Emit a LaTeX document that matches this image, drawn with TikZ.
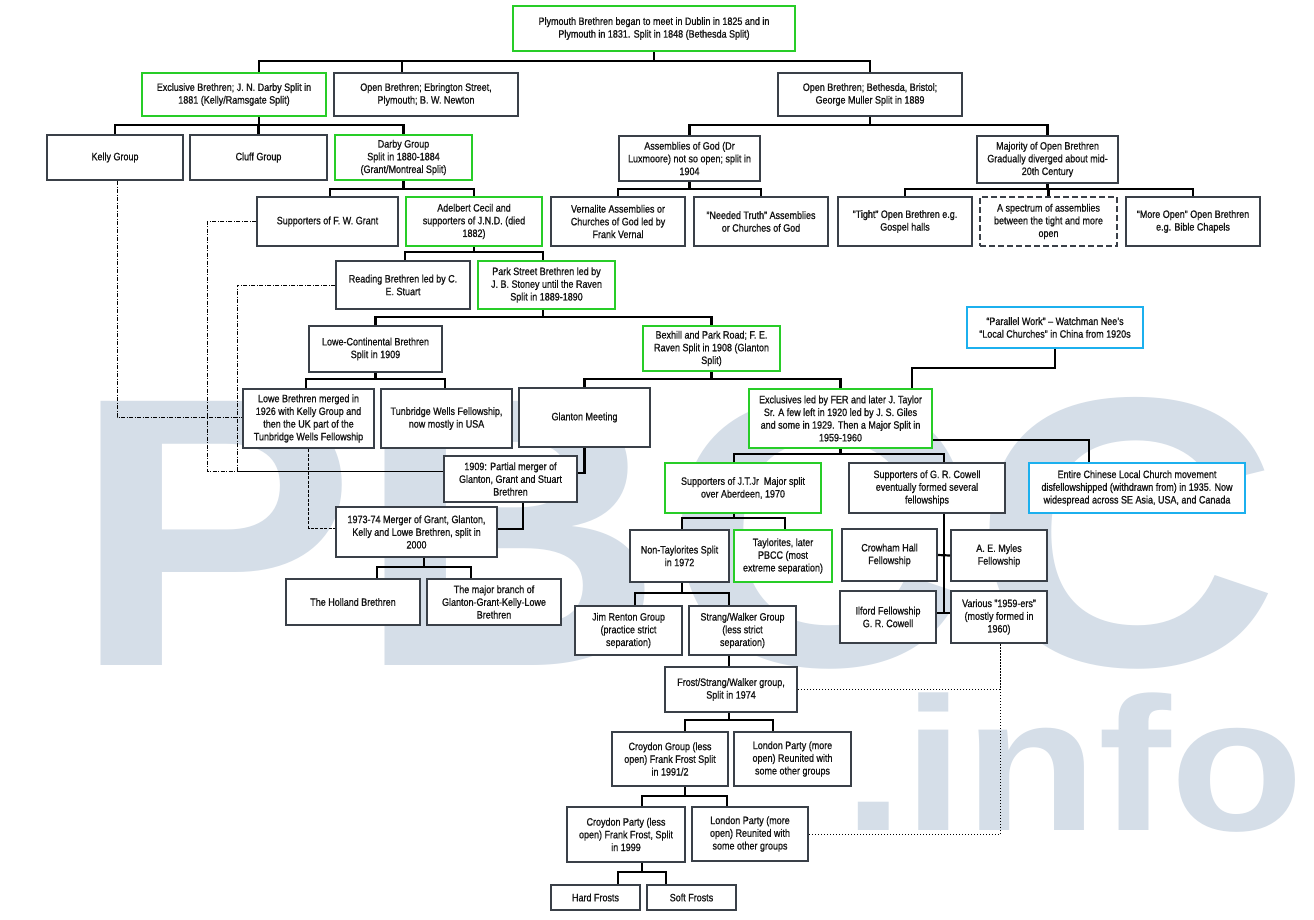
\documentclass[tikz,border=0pt]{standalone}
\usepackage{fontspec}
\setmainfont{Liberation Sans}[FakeStretch=0.84,FakeBold=0.9]
\newfontfamily\wmfont{Liberation Sans}
\usetikzlibrary{calc}
\definecolor{grnC}{RGB}{40,205,40}
\definecolor{bluC}{RGB}{28,176,238}
\definecolor{gryC}{RGB}{58,64,72}
\definecolor{wmC}{RGB}{213,222,232}
\definecolor{txtC}{RGB}{20,20,20}
\begin{document}
\begin{tikzpicture}[x=1pt,y=-1pt,
  box/.style={draw=gryC, line width=2pt, fill=white, align=center, inner sep=0pt,
    font=\fontsize{10.7}{12.7}\selectfont, text=txtC},
  gbox/.style={box, draw=grnC},
  bbox/.style={box, draw=bluC},
  dbox/.style={box, dash pattern=on 6pt off 3pt},
  conn/.style={draw=black, line width=2.2pt},
  dashdot/.style={draw=black, line width=0.9pt, dash pattern=on 4pt off 1.5pt on 1pt off 1.5pt},
  dashline/.style={draw=black, line width=0.9pt, dash pattern=on 3pt off 1.5pt},
  dotline/.style={draw=black, line width=0.9pt, dash pattern=on 1pt off 2pt}]
\useasboundingbox (0,0) rectangle (1314,919);
\fill[white] (0,0) rectangle (1314,919);
% watermark
\node[anchor=base west, text=wmC, inner sep=0pt, xscale=1.11,
  font=\wmfont\bfseries\fontsize{384}{400}\selectfont] (wm1) at (72,665) {PBCC};
\node[anchor=base west, text=wmC, inner sep=0pt, xscale=1.15,
  font=\wmfont\bfseries\fontsize{190}{200}\selectfont] (wm2) at (843,830) {.info};
% boxes
\node[gbox, minimum width=282pt, minimum height=45pt] (top) at (654,28.5) {Plymouth Brethren began to meet in Dublin in 1825 and in\\Plymouth in 1831. Split in 1848 (Bethesda Split)};
\node[gbox, minimum width=184pt, minimum height=43pt] (excl) at (234,94.5) {Exclusive Brethren; J. N. Darby Split in\\1881 (Kelly/Ramsgate Split)};
\node[box, minimum width=184pt, minimum height=43pt] (ebr) at (426,94.5) {Open Brethren; Ebrington Street,\\Plymouth; B. W. Newton};
\node[box, minimum width=184pt, minimum height=43pt] (beth) at (870,94.5) {Open Brethren; Bethesda, Bristol;\\George Muller Split in 1889};
\node[box, minimum width=136pt, minimum height=45pt] (kelly) at (115,157.5) {Kelly Group};
\node[box, minimum width=137pt, minimum height=45pt] (cluff) at (258.5,157.5) {Cluff Group};
\node[gbox, minimum width=137pt, minimum height=45pt] (darby) at (403.5,157.5) {Darby Group\\Split in 1880-1884\\(Grant/Montreal Split)};
\node[box, minimum width=141pt, minimum height=45pt] (aog) at (689.5,158.5) {Assemblies of God (Dr\\Luxmoore) not so open; split in\\1904};
\node[box, minimum width=141pt, minimum height=47pt] (major) at (1047.5,159.5) {Majority of Open Brethren\\Gradually diverged about mid-\\20th Century};
\node[box, minimum width=141pt, minimum height=49pt] (grant) at (327.5,221.5) {Supporters of F. W. Grant};
\node[gbox, minimum width=136pt, minimum height=49pt] (adel) at (474,221.5) {Adelbert Cecil and\\supporters of J.N.D. (died\\1882)};
\node[box, minimum width=134pt, minimum height=49pt] (vern) at (618,221.5) {Vernalite Assemblies or\\Churches of God led by\\Frank Vernal};
\node[box, minimum width=134pt, minimum height=49pt] (needed) at (761,221.5) {"Needed Truth" Assemblies\\or Churches of God};
\node[box, minimum width=134pt, minimum height=49pt] (tight) at (905,221.5) {"Tight" Open Brethren e.g.\\Gospel halls};
\node[dbox, minimum width=137pt, minimum height=49pt] (spec) at (1048.5,221.5) {A spectrum of assemblies\\between the tight and more\\open};
\node[box, minimum width=134pt, minimum height=49pt] (moreopen) at (1193,221.5) {“More Open” Open Brethren\\e.g. Bible Chapels};
\node[box, minimum width=134pt, minimum height=48pt] (reading) at (403,285) {Reading Brethren led by C.\\E. Stuart};
\node[gbox, minimum width=137pt, minimum height=48pt] (park) at (546.5,285) {Park Street Brethren led by\\J. B. Stoney until the Raven\\Split in 1889-1890};
\node[box, minimum width=133pt, minimum height=46pt] (lowec) at (375.5,349) {Lowe-Continental Brethren\\Split in 1909};
\node[gbox, minimum width=137pt, minimum height=45pt] (bexhill) at (711.5,348.5) {Bexhill and Park Road; F. E.\\Raven Split in 1908 (Glanton\\Split)};
\node[bbox, minimum width=176pt, minimum height=41pt] (parallel) at (1055,327.5) {“Parallel Work” – Watchman Nee’s\\“Local Churches” in China from 1920s};
\node[box, minimum width=131pt, minimum height=59pt] (lowe) at (308.5,418.5) {Lowe Brethren merged in\\1926 with Kelly Group and\\then the UK part of the\\Tunbridge Wells Fellowship};
\node[box, minimum width=131pt, minimum height=59pt] (tunb) at (446.5,418.5) {Tunbridge Wells Fellowship,\\now mostly in USA};
\node[box, minimum width=131pt, minimum height=59pt] (glanton) at (584.5,417.5) {Glanton Meeting};
\node[gbox, minimum width=183pt, minimum height=59pt] (fer) at (840.5,418.5) {Exclusives led by FER and later J. Taylor\\Sr. A few left in 1920 led by J. S. Giles\\and some in 1929. Then a Major Split in\\1959-1960};
\node[box, minimum width=133pt, minimum height=46pt] (m1909) at (510.5,479) {1909: Partial merger of\\Glanton, Grant and Stuart\\Brethren};
\node[gbox, minimum width=156pt, minimum height=50pt] (jtjr) at (743,488) {Supporters of J.T.Jr\ \ Major split\\over Aberdeen, 1970};
\node[box, minimum width=156pt, minimum height=50pt] (cowell) at (927,488) {Supporters of G. R. Cowell\\eventually formed several\\fellowships};
\node[bbox, minimum width=216pt, minimum height=50pt] (chinese) at (1137,488) {Entire Chinese Local Church movement\\disfellowshipped (withdrawn from) in 1935. Now\\widespread across SE Asia, USA, and Canada};
\node[box, minimum width=161pt, minimum height=50pt] (m1973) at (416.5,532) {1973-74 Merger of Grant, Glanton,\\Kelly and Lowe Brethren, split in\\2000};
\node[box, minimum width=99pt, minimum height=52pt] (nontay) at (679.5,556) {Non-Taylorites Split\\in 1972};
\node[gbox, minimum width=98pt, minimum height=52pt] (taylor) at (783,556) {Taylorites, later\\PBCC (most\\extreme separation)};
\node[box, minimum width=95pt, minimum height=52pt] (crowham) at (889.5,555) {Crowham Hall\\Fellowship};
\node[box, minimum width=96pt, minimum height=51pt] (myles) at (999,555.5) {A. E. Myles\\Fellowship};
\node[box, minimum width=134pt, minimum height=46pt] (holland) at (353,602) {The Holland Brethren};
\node[box, minimum width=134pt, minimum height=46pt] (majorbr) at (494,602) {The major branch of\\Glanton-Grant-Kelly-Lowe\\Brethren};
\node[box, minimum width=107pt, minimum height=49pt] (renton) at (628.5,630.5) {Jim Renton Group\\(practice strict\\separation)};
\node[box, minimum width=107pt, minimum height=49pt] (strang) at (742.5,630.5) {Strang/Walker Group\\(less strict\\separation)};
\node[box, minimum width=96pt, minimum height=52pt] (ilford) at (888,617) {Ilford Fellowship\\G. R. Cowell};
\node[box, minimum width=96pt, minimum height=52pt] (various) at (999,617) {Various "1959-ers"\\(mostly formed in\\1960)};
\node[box, minimum width=132pt, minimum height=45pt] (fsw) at (731,689.5) {Frost/Strang/Walker group,\\Split in 1974};
\node[box, minimum width=116pt, minimum height=54pt] (croydong) at (670,759) {Croydon Group (less\\open) Frank Frost Split\\in 1991/2};
\node[box, minimum width=117pt, minimum height=54pt] (london1) at (792.5,759) {London Party (more\\open) Reunited with\\some other groups};
\node[box, minimum width=118pt, minimum height=55pt] (croydonp) at (626,834.5) {Croydon Party (less\\open) Frank Frost, Split\\in 1999};
\node[box, minimum width=116pt, minimum height=54pt] (london2) at (750,834) {London Party (more\\open) Reunited with\\some other groups};
\node[box, minimum width=89pt, minimum height=25pt] (hard) at (595.5,897.5) {Hard Frosts};
\node[box, minimum width=89pt, minimum height=25pt] (soft) at (691.5,897.5) {Soft Frosts};
% connectors
\coordinate (j1) at ([yshift=-9pt]top.south);
\draw[conn] (top.south) -- (j1);
\draw[conn] ([xshift=25pt]excl.north) |- (j1) -| (beth.north);
\draw[conn] ([xshift=-24pt]ebr.north) |- (j1);
\coordinate (j2) at ([xshift=25pt,yshift=-8pt]excl.south);
\draw[conn] ([xshift=25pt]excl.south) -- (j2);
\draw[conn] (kelly.north) |- (j2) -| (darby.north);
\draw[conn] (cluff.north) |- (j2);
\coordinate (jb) at ([yshift=-8pt]beth.south);
\draw[conn] (beth.south) -- (jb);
\draw[conn] (aog.north) |- (jb) -| (major.north);
\coordinate (ja) at ([yshift=-7pt]aog.south);
\draw[conn] (aog.south) -- (ja);
\draw[conn] (vern.north) |- (ja) -| (needed.north);
\coordinate (jm) at ([yshift=-5pt]major.south);
\draw[conn] (major.south) -- (jm);
\draw[conn] (tight.north) |- (jm) -| (moreopen.north);
\draw[conn] (spec.north) |- (jm);
\coordinate (j3) at ([yshift=-8pt]darby.south);
\draw[conn] (darby.south) -- (j3);
\draw[conn] ([xshift=2.5pt]grant.north) |- (j3) -| (adel.north);
\coordinate (j4) at ([yshift=-5pt]adel.south);
\draw[conn] (adel.south) -- (j4);
\draw[conn] ([xshift=2pt]reading.north) |- (j4) -| ([xshift=-3.5pt]park.north);
\coordinate (j5) at ([xshift=-3.5pt,yshift=-7pt]park.south);
\draw[conn] ([xshift=-3.5pt]park.south) -- (j5);
\draw[conn] (lowec.north) |- (j5) -| (bexhill.north);
\coordinate (j6) at ([yshift=-6pt]lowec.south);
\draw[conn] (lowec.south) -- (j6);
\draw[conn] ([xshift=-2.5pt]lowe.north) |- (j6) -| ([xshift=-1.5pt]tunb.north);
\coordinate (j7) at ([yshift=-7pt]bexhill.south);
\draw[conn] (bexhill.south) -- (j7);
\draw[conn] (glanton.north) |- (j7) -| (fer.north);
\draw[conn] (parallel.south) |- ([xshift=71.5pt,yshift=20pt]fer.north) -- ([xshift=71.5pt]fer.north);
\coordinate (j9) at ([yshift=-5pt]fer.south);
\draw[conn] (fer.south) -- (j9);
\draw[conn] ([xshift=-9pt]jtjr.north) |- (j9) -| ([xshift=17pt]cowell.north);
\draw[conn] ([yshift=-21.5pt]fer.east) -| ([xshift=-48pt]chinese.north);
\coordinate (j11) at ([xshift=-9pt,yshift=-4pt]jtjr.south);
\draw[conn] ([xshift=-9pt]jtjr.south) -- (j11);
\draw[conn] ([xshift=2.5pt]nontay.north) |- (j11) -| ([xshift=2pt]taylor.north);
\coordinate (j12) at ([xshift=2.5pt,yshift=-10pt]nontay.south);
\draw[conn] ([xshift=2.5pt]nontay.south) -- (j12);
\draw[conn] ([xshift=6.5pt]renton.north) |- (j12) -| ([xshift=-13.5pt]strang.north);
\draw[conn] ([xshift=-13.5pt]strang.south) -- ([xshift=-2pt]fsw.north);
\coordinate (j14) at ([xshift=-2pt,yshift=-7pt]fsw.south);
\draw[conn] ([xshift=-2pt]fsw.south) -- (j14);
\draw[conn] ([xshift=15pt]croydong.north) |- (j14) -| ([xshift=-19.5pt]london1.north);
\coordinate (j15) at ([xshift=15pt,yshift=-9pt]croydong.south);
\draw[conn] ([xshift=15pt]croydong.south) -- (j15);
\draw[conn] ([xshift=16pt]croydonp.north) |- (j15) -| ([xshift=-23pt]london2.north);
\coordinate (j16) at ([xshift=16pt,yshift=-9pt]croydonp.south);
\draw[conn] ([xshift=16pt]croydonp.south) -- (j16);
\draw[conn] ([xshift=22.5pt]hard.north) |- (j16) -| ([xshift=-25.5pt]soft.north);
\draw[conn] (glanton.south) |- ([yshift=6pt]m1909.east);
\draw[conn] ([xshift=12.5pt]m1909.south) |- ([yshift=3pt]m1973.east);
\coordinate (j19) at ([xshift=7.5pt,yshift=-9pt]m1973.south);
\draw[conn] ([xshift=7.5pt]m1973.south) -- (j19);
\draw[conn] ([xshift=24pt]holland.north) |- (j19) -| ([xshift=-23pt]majorbr.north);
\draw[conn] ([xshift=17pt]cowell.south) -- ([xshift=17pt,yshift=-99pt]cowell.south);
\draw[conn] (crowham.east) -- (myles.west);
\draw[conn] ([yshift=4pt]ilford.east) -- ([yshift=4pt]various.west);
% dashed / dotted links
\draw[dashdot] ([xshift=2pt]kelly.south) |- ([yshift=1.5pt]lowe.west);
\draw[dashdot] (grant.west) -- ++(-49,0) |- ([yshift=8pt]m1909.west);
\draw[dashdot] (reading.west) -- ++(-98,0) |- ([yshift=8pt]m1909.west);
\draw[dashline] (lowe.south) |- ([yshift=4pt]m1973.west);
\draw[dotline] (fsw.east) -| ([xshift=1.5pt]various.south);
\draw[dotline] (london2.east) -| ([xshift=1.5pt]various.south);
\end{tikzpicture}
\end{document}
